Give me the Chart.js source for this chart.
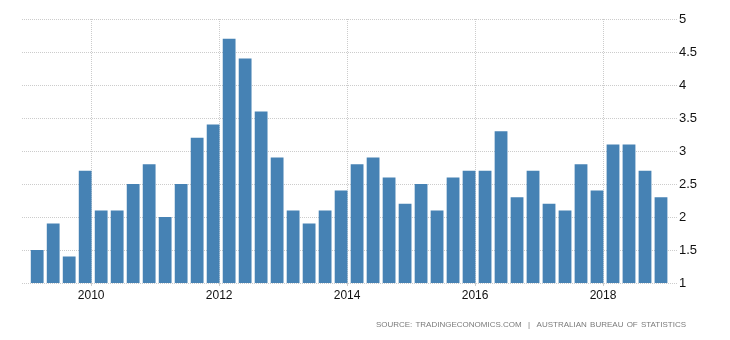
<!DOCTYPE html>
<html>
<head>
<meta charset="utf-8">
<script src="https://cdn.jsdelivr.net/npm/chart.js@4/dist/chart.umd.min.js"></script>
<style>
  html, body { margin: 0; padding: 0; background: #fff; }
  #wrap { position: relative; width: 730px; height: 340px; }
  #source {
    position: absolute; right: 44px; top: 320px;
    font-family: "Liberation Sans", Arial, sans-serif; font-size: 8px;
    letter-spacing: 0; word-spacing: 1px; color: #7a7a7a; white-space: nowrap;
  }
</style>
</head>
<body>
<div id="wrap">
  <canvas id="chart" width="730" height="340"></canvas>
  <div id="source">SOURCE: TRADINGECONOMICS.COM &nbsp;| &nbsp;AUSTRALIAN BUREAU OF STATISTICS</div>
</div>
<script>
// Quarterly readings, 2009 Q1 through 2018 Q4
const quarters = [];
for (let y = 2009; y <= 2018; y++) for (let q = 1; q <= 4; q++) quarters.push(y + ' Q' + q);
const values = [
  1.5, 1.9, 1.4, 2.7,
  2.1, 2.1, 2.5, 2.8,
  2.0, 2.5, 3.2, 3.4,
  4.7, 4.4, 3.6, 2.9,
  2.1, 1.9, 2.1, 2.4,
  2.8, 2.9, 2.6, 2.2,
  2.5, 2.1, 2.6, 2.7,
  2.7, 3.3, 2.3, 2.7,
  2.2, 2.1, 2.8, 2.4,
  3.1, 3.1, 2.7, 2.3
];
const yearLabels = ['2010', '2012', '2014', '2016', '2018'];
const yTicks = [1, 1.5, 2, 2.5, 3, 3.5, 4, 4.5, 5];

// Year ticks sit at the start of each labelled year, between Q4 and Q1 bars
const yearTickPos = yearLabels.map(y => (Number(y) - 2009) * 4 - 0.625);

const gridColor = '#cccccc';

new Chart(document.getElementById('chart'), {
  type: 'bar',
  data: {
    datasets: [{
      data: values.map((v, i) => ({ x: i, y: v })),
      backgroundColor: '#4682b4',
      borderWidth: 0,
      barPercentage: 0.8,
      categoryPercentage: 1.0
    }]
  },
  options: {
    responsive: false,
    animation: false,
    events: [],
    layout: { padding: { top: 19, left: 22, right: 0, bottom: 0 } },
    plugins: { legend: { display: false }, tooltip: { enabled: false } },
    scales: {
      x: {
        type: 'linear',
        offset: false,
        min: -0.95,
        max: 40,
        afterBuildTicks: s => { s.ticks = yearTickPos.map(v => ({ value: v })); },
        afterFit: s => { s.height = 57; },
        ticks: {
          autoSkip: false,
          maxRotation: 0,
          padding: 2,
          color: '#111',
          font: { family: '"Liberation Sans", Arial, sans-serif', size: 12 },
          callback: (v, i) => yearLabels[i]
        },
        grid: {
          offset: false,
          color: gridColor,
          lineWidth: 1,
          tickLength: 3,
          drawOnChartArea: true
        },
        border: { display: false, dash: [1, 1] }
      },
      y: {
        position: 'right',
        min: 1,
        max: 5,
        afterBuildTicks: s => { s.ticks = yTicks.map(v => ({ value: v })); },
        afterFit: s => { s.width = 53; },
        ticks: {
          padding: 2,
          color: '#111',
          font: { family: '"Liberation Sans", Arial, sans-serif', size: 13 },
          callback: v => String(v)
        },
        grid: { color: gridColor, lineWidth: 1, drawTicks: false },
        border: { display: false, dash: [1, 1] }
      }
    }
  }
});
</script>
</body>
</html>
